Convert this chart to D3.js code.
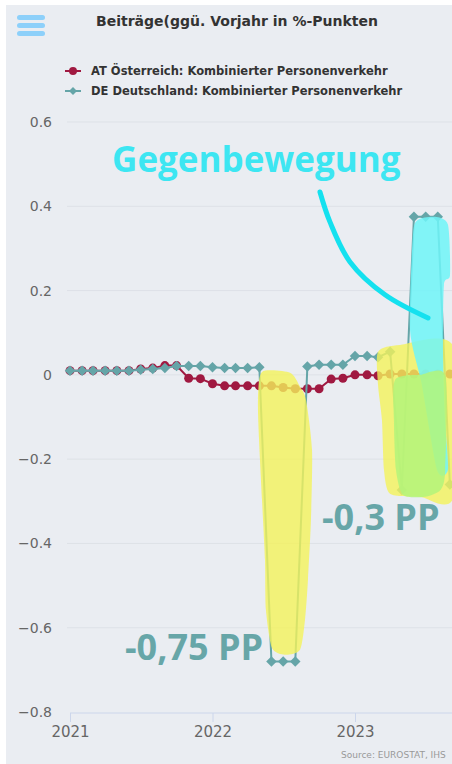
<!DOCTYPE html>
<html>
<head>
<meta charset="utf-8">
<script src="https://cdn.jsdelivr.net/npm/d3@7"></script>
<style>
  body { margin: 0; background: #fff; }
  svg { display: block; font-family: "DejaVu Sans", sans-serif; }
</style>
</head>
<body>
<svg id="chart" width="452" height="764"></svg>
<script>
// monthly values, Jan 2021 .. Sep 2023
var months = d3.range(33).map(function(i) { return new Date(2021, i, 1); });
var atValues = [0.01, 0.01, 0.01, 0.01, 0.01, 0.01, 0.014, 0.016, 0.022, 0.022,
  -0.008, -0.009, -0.021, -0.026, -0.026, -0.026, -0.026, -0.026, -0.03, -0.033,
  -0.033, -0.033, -0.01, -0.008, 0, 0, -0.002, 0.002, 0.002, 0.002, 0.002, 0.002, 0.002];
var deValues = [0.01, 0.01, 0.01, 0.01, 0.01, 0.01, 0.012, 0.014, 0.016, 0.021,
  0.021, 0.021, 0.018, 0.016, 0.016, 0.016, 0.018, -0.68, -0.68, -0.68,
  0.02, 0.024, 0.024, 0.024, 0.045, 0.045, 0.042, 0.055, -0.273, 0.375, 0.375, 0.375, -0.26];
var seriesNames = ['AT Österreich: Kombinierter Personenverkehr', 'DE Deutschland: Kombinierter Personenverkehr'];
var yTicks = [-0.8, -0.6, -0.4, -0.2, 0, 0.2, 0.4, 0.6];
var xTicks = [new Date(2021, 0, 1), new Date(2022, 0, 1), new Date(2023, 0, 1)];

// hand drawn markings, as [month index, value]
var yellowDip = [[16.17, 0.007], [18.53, 0.005], [19.37, -0.028], [19.87, -0.059], [20.38, -0.178],
  [20.29, -0.344], [20.04, -0.486], [19.79, -0.581], [19.37, -0.652], [18.1, -0.664], [17.01, -0.648],
  [16.5, -0.558], [16.42, -0.439], [16.17, -0.297], [15.92, -0.154], [15.83, -0.059]];
var yellowRight = [[25.94, 0.055], [27.79, 0.071], [32.3, 0.066], [32.3, -0.289], [29.47, -0.289],
  [26.95, -0.282], [26.44, -0.225], [26.27, -0.107], [25.94, -0.024]];
var greenRight = [[27.37, -0.012], [29.47, 0], [31.6, -0.002], [31.6, -0.225], [31.2, -0.273],
  [29.89, -0.289], [28.04, -0.285], [27.45, -0.225], [27.28, -0.107]];
var cyanBlob = [[28.88, 0.332], [29.31, 0.368], [30.74, 0.375], [31.83, 0.356], [32.0, 0.237],
  [31.49, 0.214], [31.41, 0.059], [31.58, -0.107], [31.83, -0.225], [30.9, -0.225], [29.6, -0.02], [28.63, 0.107]];
var cyanArrow = [[21.05, 0.434], [21.89, 0.363], [23.58, 0.268], [26.53, 0.19], [30.15, 0.135]];

(function() {
  var svg = d3.select('#chart');
  var atColor = '#a01941';
  var deColor = '#65a5a8';

  svg.append('rect')
    .attr('x', 6).attr('y', 5)
    .attr('width', 446).attr('height', 759)
    .attr('fill', '#eaedf2');

  var x = d3.scaleTime()
    .domain([xTicks[0], xTicks[2]])
    .range([70, 355]);
  var y = d3.scaleLinear()
    .domain([-0.8, 0.6])
    .range([712, 122]);
  // month index -> x, for the markings
  var xm = d3.scaleLinear().domain([0, 24]).range(x.range());

  // grid
  svg.append('g').selectAll('line')
    .data(yTicks.filter(function(d) { return d !== -0.8; }))
    .enter().append('line')
      .attr('x1', 67).attr('x2', 452)
      .attr('y1', function(d) { return y(d); })
      .attr('y2', function(d) { return y(d); })
      .attr('stroke', '#dde1e7')
      .attr('stroke-width', 1);

  var yAxis = svg.append('g')
    .attr('transform', 'translate(52,0)')
    .call(d3.axisLeft(y).tickValues(yTicks).tickSize(0).tickPadding(0)
      .tickFormat(function(d) { return d === 0 ? '0' : d3.format('.1f')(d); }));
  yAxis.select('.domain').remove();
  yAxis.selectAll('text')
    .attr('fill', '#666')
    .attr('font-size', 14)
    .attr('font-family', '"DejaVu Sans", sans-serif');

  var xAxis = svg.append('g')
    .attr('transform', 'translate(0,' + (y(-0.8) + 1) + ')')
    .call(d3.axisBottom(x).tickValues(xTicks).tickSize(9).tickPadding(4)
      .tickFormat(d3.timeFormat('%Y')));
  xAxis.select('.domain').remove();
  xAxis.append('line')
    .attr('x1', 70).attr('x2', 452)
    .attr('stroke', '#ccd6eb');
  xAxis.selectAll('.tick line').attr('stroke', '#ccd6eb');
  xAxis.selectAll('text')
    .attr('fill', '#666')
    .attr('font-size', 15)
    .attr('font-family', '"DejaVu Sans", sans-serif');

  // series
  var line = d3.line()
    .x(function(d, i) { return x(months[i]); })
    .y(function(d) { return y(d); });

  svg.append('path')
    .attr('d', line(atValues))
    .attr('fill', 'none')
    .attr('stroke', atColor)
    .attr('stroke-width', 2);
  svg.append('g').selectAll('circle')
    .data(atValues)
    .enter().append('circle')
      .attr('cx', function(d, i) { return x(months[i]); })
      .attr('cy', function(d) { return y(d); })
      .attr('r', 4.5)
      .attr('fill', atColor);

  svg.append('path')
    .attr('d', line(deValues))
    .attr('fill', 'none')
    .attr('stroke', deColor)
    .attr('stroke-width', 2);
  var diamond = d3.symbol().type(d3.symbolDiamond2).size(70);
  svg.append('g').selectAll('path')
    .data(deValues)
    .enter().append('path')
      .attr('d', diamond)
      .attr('transform', function(d, i) { return 'translate(' + x(months[i]) + ',' + y(d) + ')'; })
      .attr('fill', deColor);

  // title, menu icon, legend
  svg.append('text')
    .attr('x', 237).attr('y', 26)
    .attr('text-anchor', 'middle')
    .attr('font-size', 14)
    .attr('font-weight', 'bold')
    .attr('fill', '#333')
    .text('Beiträge(ggü. Vorjahr in %-Punkten');

  svg.append('g').selectAll('rect')
    .data([0, 1, 2])
    .enter().append('rect')
      .attr('x', 17).attr('y', function(d) { return 15 + d * 8; })
      .attr('width', 28).attr('height', 5)
      .attr('rx', 2.5)
      .attr('fill', '#8dd0fa');

  var legend = svg.append('g').selectAll('g')
    .data(seriesNames)
    .enter().append('g')
      .attr('transform', function(d, i) { return 'translate(0,' + (71 + i * 20) + ')'; });
  legend.append('line')
    .attr('x1', 65).attr('x2', 81)
    .attr('stroke', function(d, i) { return i ? deColor : atColor; })
    .attr('stroke-width', 2);
  legend.append('path')
    .attr('d', function(d, i) {
      return i ? d3.symbol().type(d3.symbolDiamond2).size(40)() : d3.symbol().type(d3.symbolCircle).size(50)();
    })
    .attr('transform', 'translate(73,0)')
    .attr('fill', function(d, i) { return i ? deColor : atColor; });
  legend.append('text')
    .attr('x', 91).attr('y', 4)
    .attr('font-size', 11.5)
    .attr('font-weight', 'bold')
    .attr('fill', '#333')
    .text(function(d) { return d; });

  svg.append('text')
    .attr('x', 341).attr('y', 758)
    .attr('font-size', 9)
    .attr('fill', '#999')
    .text('Source: EUROSTAT, IHS');

  // hand drawn markings
  var blob = d3.line()
    .x(function(d) { return xm(d[0]); })
    .y(function(d) { return y(d[1]); })
    .curve(d3.curveCardinalClosed.tension(0.3));

  svg.append('path').attr('d', blob(yellowDip))
    .attr('fill', '#f4f25a').attr('opacity', 0.8);
  svg.append('path').attr('d', blob(yellowRight))
    .attr('fill', '#f4f25a').attr('opacity', 0.8);
  svg.append('path').attr('d', blob(cyanBlob))
    .attr('fill', '#6ff4f8').attr('opacity', 0.85);
  svg.append('path').attr('d', blob(greenRight))
    .attr('fill', '#b3f57a').attr('opacity', 0.85);

  svg.append('path')
    .attr('d', d3.line()
      .x(function(d) { return xm(d[0]); })
      .y(function(d) { return y(d[1]); })
      .curve(d3.curveCatmullRom)(cyanArrow))
    .attr('fill', 'none')
    .attr('stroke', '#14e1ef')
    .attr('stroke-width', 5)
    .attr('stroke-linecap', 'round');

  svg.append('text')
    .attr('x', xm(3.54)).attr('y', y(0.482))
    .attr('font-family', '"Open Sans", sans-serif')
    .attr('font-weight', 'bold')
    .attr('font-size', 35)
    .attr('fill', '#3de6f2')
    .text('Gegenbewegung');

  svg.append('text')
    .attr('x', xm(4.63)).attr('y', y(-0.676))
    .attr('font-family', '"Open Sans", sans-serif')
    .attr('font-weight', 'bold')
    .attr('font-size', 36)
    .attr('fill', '#67a6a8')
    .text('-0,75 PP');

  svg.append('text')
    .attr('x', xm(21.22)).attr('y', y(-0.368))
    .attr('font-family', '"Open Sans", sans-serif')
    .attr('font-weight', 'bold')
    .attr('font-size', 36)
    .attr('fill', '#67a6a8')
    .text('-0,3 PP');
})();
</script>
</body>
</html>
